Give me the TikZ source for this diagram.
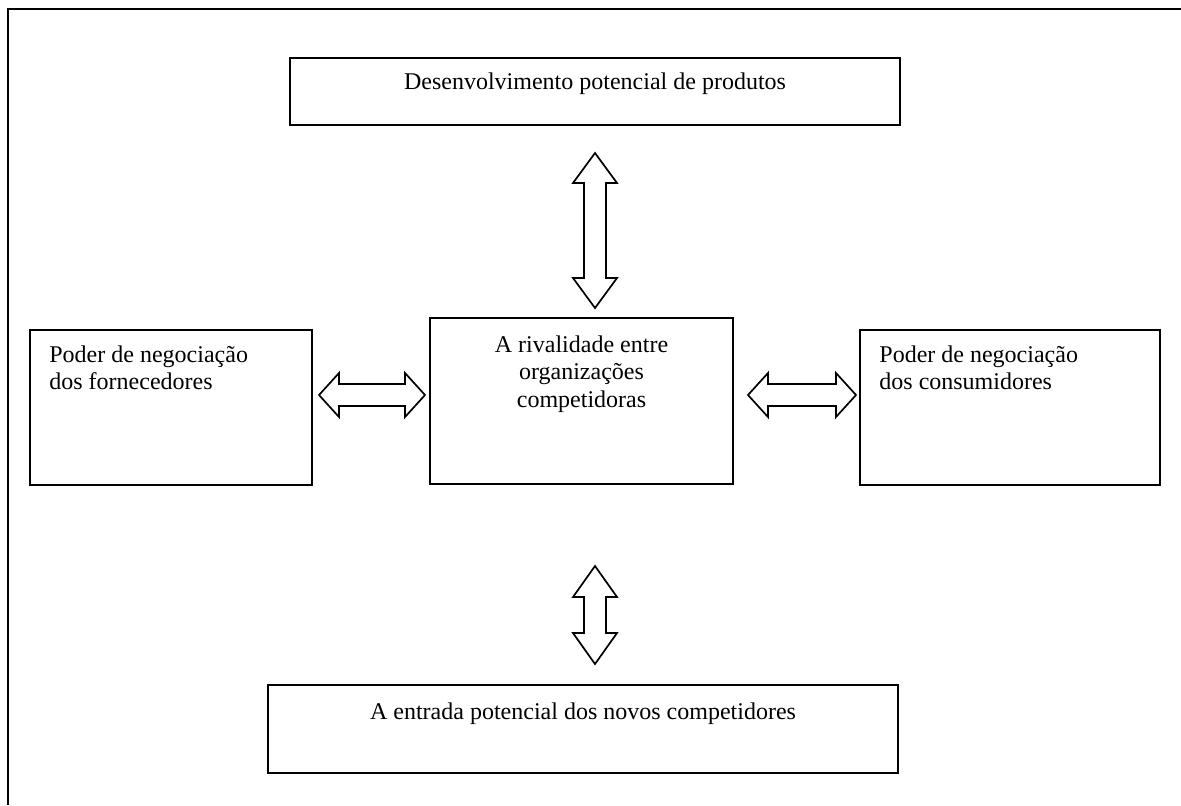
\documentclass[tikz,border=0pt]{standalone}
\usepackage{fontspec}
\setmainfont{Liberation Serif}
\usetikzlibrary{calc}
\begin{document}
\begin{tikzpicture}[x=0.5pt,y=-0.5pt,
  frame/.style={line width=1.4pt},
  box/.style={draw, line width=1pt, inner sep=0pt, rectangle},
  txt/.style={inner sep=0pt, font=\fontsize{12}{13.8}\selectfont},
  arr/.style={draw, fill=white, line width=0.85pt, line join=miter},
  % double block arrow: tip at the origin, pointing along +y; #1 = length, #2 = head length
  pics/dbl/.style 2 args={code={
    \path[arr] (0,0) -- (22,#2) -- (11,#2) -- (11,#1-#2) -- (22,#1-#2) -- (0,#1)
      -- (-22,#1-#2) -- (-11,#1-#2) -- (-11,#2) -- (-22,#2) -- cycle;
  }}]
\useasboundingbox (0,0) rectangle (1181,805);

% page frame (top and left edges)
\draw[frame] (8,805) -- (8,9) -- (1181,9);

% boxes
\node[box, minimum width=305pt, minimum height=33.5pt] (prod) at (595,91.5) {};
\node[box, minimum width=141pt, minimum height=77.5pt] (forn) at (171,407.5) {};
\node[box, minimum width=151.5pt, minimum height=83pt] (rival) at (581.5,401) {};
\node[box, minimum width=150pt, minimum height=77.5pt] (cons) at (1010,407.5) {};
\node[box, minimum width=315pt, minimum height=44pt] (entr) at (583,729) {};

% labels
\node[txt, anchor=base] (prodT) at ($(prod.north)+(0,32)$) {Desenvolvimento potencial de produtos};
\node[txt, anchor=north west, align=left] (fornT) at ($(forn.north west)+(20,16)$) {Poder de negociação\\dos fornecedores};
\node[txt, anchor=north, align=center] (rivalT) at ($(rival.north)+(0,18)$) {A rivalidade entre\\organizações\\competidoras};
\node[txt, anchor=north west, align=left] (consT) at ($(cons.north west)+(20,16)$) {Poder de negociação\\dos consumidores};
\node[txt, anchor=base] (entrT) at ($(entr.north)+(0,35)$) {A entrada potencial dos novos competidores};

% block arrows between the boxes
\pic at ($(prod.south)+(0,27)$) {dbl={155}{30}};
\pic at ($(prod.south |- rival.south)+(0,81)$) {dbl={98}{31}};
\pic[rotate=90] at ($(forn.east)+(6,-12.5)$) {dbl={106}{20}};
\pic[rotate=90] at ($(rival.east)+(14,-6)$) {dbl={108}{20}};
\end{tikzpicture}
\end{document}
